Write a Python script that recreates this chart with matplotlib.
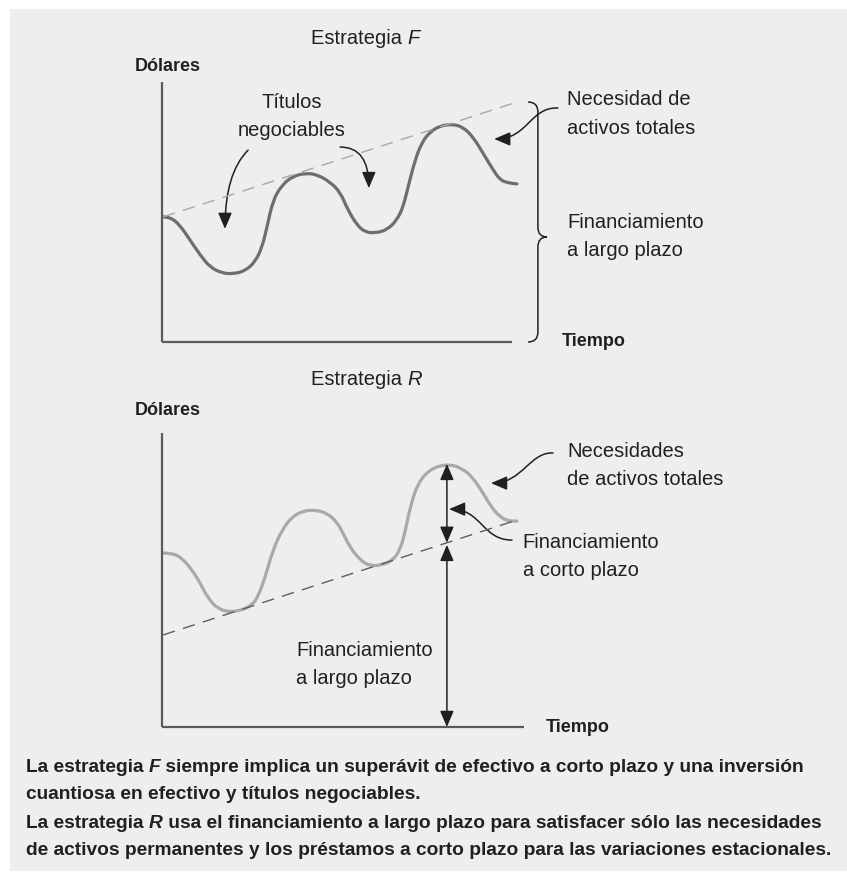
import numpy as np
import matplotlib.pyplot as plt
from matplotlib import font_manager
from matplotlib.patches import FancyArrowPatch, PathPatch, Rectangle
from matplotlib.path import Path

# ===== DATA (time units vs dollar units) =====
# Strategy F: total asset needs
t_F = [0.03, 0.23, 0.51, 0.80, 1.09, 1.37, 1.71, 2.03, 2.37, 2.66, 2.86, 3.00,
       3.17, 3.43, 3.74, 4.14, 4.46, 4.80, 5.09, 5.31, 5.57, 5.80, 6.09, 6.43,
       6.71, 6.89, 7.03, 7.23, 7.43, 7.66, 7.94, 8.29, 8.60, 8.89, 9.17, 9.46,
       9.66, 9.89, 10.14]
dol_F = [4.81, 4.81, 4.50, 3.92, 3.35, 2.88, 2.65, 2.62, 2.73, 3.08, 3.65, 4.42,
         5.46, 6.04, 6.38, 6.50, 6.42, 6.15, 5.77, 5.08, 4.50, 4.23, 4.19, 4.31,
         4.69, 5.19, 5.96, 7.00, 7.69, 8.08, 8.31, 8.38, 8.27, 7.88, 7.27, 6.62,
         6.23, 6.12, 6.08]

# Strategy R: total asset needs
t_R = [0.03, 0.29, 0.57, 0.86, 1.09, 1.31, 1.60, 1.94, 2.29, 2.57, 2.74, 2.94,
       3.17, 3.43, 3.71, 4.03, 4.37, 4.71, 5.00, 5.17, 5.37, 5.66, 5.94, 6.29,
       6.60, 6.80, 6.94, 7.09, 7.31, 7.66, 8.14, 8.57, 8.89, 9.17, 9.43, 9.66,
       9.89, 10.14]
dol_R = [6.69, 6.69, 6.50, 6.04, 5.54, 4.96, 4.54, 4.42, 4.50, 4.69, 5.00, 5.73,
         6.81, 7.58, 8.08, 8.31, 8.35, 8.23, 7.88, 7.46, 6.92, 6.42, 6.19, 6.23,
         6.42, 6.81, 7.46, 8.46, 9.38, 9.92, 10.12, 9.96, 9.58, 9.00, 8.42, 8.08,
         7.92, 7.92]

# long-term financing lines (dashed)
trend_t = [0.03, 10.14]
trend_F = [4.81, 9.23]
trend_R = [3.54, 7.96]

caption = [
    [("La estrategia ", "normal"), ("F", "italic"),
     (" siempre implica un superávit de efectivo a corto plazo y una inversión", "normal")],
    [("cuantiosa en efectivo y títulos negociables.", "normal")],
    [("La estrategia ", "normal"), ("R", "italic"),
     (" usa el financiamiento a largo plazo para satisfacer sólo las necesidades", "normal")],
    [("de activos permanentes y los préstamos a corto plazo para las variaciones estacionales.", "normal")],
]

# ===== STYLE =====
W, H = 847, 875
names = {f.name for f in font_manager.fontManager.ttflist}
NARROW = "Liberation Sans Narrow" if "Liberation Sans Narrow" in names else "Liberation Sans"
REG = "Liberation Sans"
TXT = "#231f20"
AX = "#5a5a5a"
LBL = 14.5
BOLD = 15 if NARROW != REG else 13
CAP = 16.35 if NARROW != REG else 13.8

fig = plt.figure(figsize=(W / 100, H / 100), dpi=100)
fig.patch.set_facecolor("white")

bg = fig.add_axes([0, 0, 1, 1])
bg.set_xlim(0, 1)
bg.set_ylim(0, 1)
bg.axis("off")
bg.add_patch(Rectangle((10 / W, 4 / H), 837 / W, 862 / H, color="#eeeeee", lw=0))


def panel(y_axis_px, ymax, xmax_axis):
    ax = fig.add_axes([162 / W, 1 - y_axis_px / H, 14 * 35 / W, ymax * 26 / H])
    ax.set_xlim(0, 14)
    ax.set_ylim(0, ymax)
    ax.set_facecolor("none")
    for s in ["top", "right"]:
        ax.spines[s].set_visible(False)
    for s in ["left", "bottom"]:
        ax.spines[s].set_color(AX)
        ax.spines[s].set_linewidth(1.6)
        ax.spines[s].set_capstyle("butt")
    ax.spines["left"].set_bounds(0, ymax)
    ax.spines["bottom"].set_bounds(0, xmax_axis)
    ax.set_xticks([])
    ax.set_yticks([])
    return ax


def smooth_curve(ax, x, y, color):
    # quadratic bezier through the read points (points used as control points)
    verts = [(x[0], y[0])]
    codes = [Path.MOVETO]
    for i in range(1, len(x) - 1):
        verts += [(x[i], y[i]), ((x[i] + x[i + 1]) / 2, (y[i] + y[i + 1]) / 2)]
        codes += [Path.CURVE3, Path.CURVE3]
    verts.append((x[-1], y[-1]))
    codes.append(Path.LINETO)
    ax.add_patch(PathPatch(Path(verts, codes), fill=False, edgecolor=color, lw=2.3,
                           capstyle="round", joinstyle="round"))


def rich(ax, x, y, parts, size, family, weight="normal", transform=None):
    prev = ax.text(x, y, parts[0][0], fontsize=size, family=family, weight=weight,
                   style=parts[0][1], color=TXT, va="baseline", ha="left",
                   transform=transform or ax.transData)
    for s, st in parts[1:]:
        prev = ax.annotate(s, xy=(1, 0), xycoords=prev, va="bottom", ha="left",
                           fontsize=size, family=family, weight=weight, style=st,
                           color=TXT, annotation_clip=False)
    return prev


def lines(ax, x, y, rows, ha="left", dy=1.08):
    for i, r in enumerate(rows):
        ax.text(x, y - i * dy, r, fontsize=LBL, family=REG, color=TXT,
                ha=ha, va="center")


HEAD = "-|>,head_length=0.75,head_width=0.32"


def curved_arrow(ax, p0, p1, p2, p3):
    path = Path([p0, p1, p2, p3], [Path.MOVETO, Path.CURVE4, Path.CURVE4, Path.CURVE4])
    ax.add_patch(FancyArrowPatch(path=path, arrowstyle=HEAD, mutation_scale=13,
                                 color=TXT, lw=1.1, transform=ax.transData, clip_on=False))


def arrow3(ax, start, end, conn):
    ax.add_patch(FancyArrowPatch(start, end, connectionstyle=conn, arrowstyle=HEAD,
                                 mutation_scale=13, color=TXT, lw=1.1, shrinkA=0, shrinkB=0,
                                 clip_on=False))


# ===== STRATEGY F =====
ax_F = panel(342, 10, 10.0)
ax_F.plot(trend_t, trend_F, color="#a8a8a8", lw=1.0, dashes=(9, 6))
smooth_curve(ax_F, t_F, dol_F, "#6e6e6e")

rich(ax_F, 4.26, 11.45, [("Estrategia ", "normal"), ("F", "italic")], LBL, REG)
ax_F.text(-0.77, 10.58, "Dólares", fontsize=BOLD, family=NARROW, weight="bold",
          color=TXT, va="center", ha="left")
ax_F.text(11.43, 0.0, "Tiempo", fontsize=BOLD, family=NARROW, weight="bold",
          color=TXT, va="center", ha="left")
lines(ax_F, 3.71, 9.23, ["Títulos", "negociables"], ha="center")
lines(ax_F, 11.57, 9.31, ["Necesidad de", "activos totales"])
lines(ax_F, 11.57, 4.58, ["Financiamiento", "a largo plazo"])

arrow3(ax_F, (2.46, 7.38), (1.80, 4.35), "angle3,angleA=45,angleB=90")
arrow3(ax_F, (5.09, 7.50), (5.91, 5.92), "angle3,angleA=0,angleB=90")
curved_arrow(ax_F, (11.31, 9.00), (10.51, 9.04), (10.46, 7.81), (9.49, 7.81))

# brace spanning long-term financing
brace = Path(
    [(10.46, 9.23), (10.74, 9.23), (10.74, 8.85), (10.74, 4.42), (10.74, 4.04), (11.0, 4.04),
     (10.74, 4.04), (10.74, 3.65), (10.74, 0.38), (10.74, 0.0), (10.46, 0.0)],
    [Path.MOVETO, Path.CURVE3, Path.CURVE3, Path.LINETO, Path.CURVE3, Path.CURVE3,
     Path.CURVE3, Path.CURVE3, Path.LINETO, Path.CURVE3, Path.CURVE3])
ax_F.add_patch(PathPatch(brace, fill=False, color=TXT, lw=1.1, clip_on=False))

# ===== STRATEGY R =====
ax_R = panel(727, 11.3, 10.34)
ax_R.plot(trend_t, trend_R, color="#5e5e5e", lw=1.0, dashes=(9, 6))
smooth_curve(ax_R, t_R, dol_R, "#a9a9a9")

rich(ax_R, 4.26, 13.15, [("Estrategia ", "normal"), ("R", "italic")], LBL, REG)
ax_R.text(-0.77, 12.19, "Dólares", fontsize=BOLD, family=NARROW, weight="bold",
          color=TXT, va="center", ha="left")
ax_R.text(10.97, 0.0, "Tiempo", fontsize=BOLD, family=NARROW, weight="bold",
          color=TXT, va="center", ha="left")
lines(ax_R, 11.57, 10.58, ["Necesidades", "de activos totales"])
lines(ax_R, 10.31, 7.08, ["Financiamiento", "a corto plazo"])
lines(ax_R, 3.83, 2.96, ["Financiamiento", "a largo plazo"])

# short-term vs long-term financing at the seasonal peak
i_pk = int(np.argmax(dol_R))
t_pk = t_R[i_pk]
base_pk = np.interp(t_pk, trend_t, trend_R)
two = "<|-|>,head_length=0.75,head_width=0.32"
ax_R.annotate("", xy=(t_pk, dol_R[i_pk]), xytext=(t_pk, base_pk),
              arrowprops=dict(arrowstyle=two, mutation_scale=13, color=TXT, lw=1.1,
                              shrinkA=0, shrinkB=0))
ax_R.annotate("", xy=(t_pk, base_pk - 0.08), xytext=(t_pk, 0),
              arrowprops=dict(arrowstyle=two, mutation_scale=13, color=TXT, lw=1.1,
                              shrinkA=0, shrinkB=0))

curved_arrow(ax_R, (11.17, 10.54), (10.51, 10.58), (10.29, 9.38), (9.40, 9.38))
curved_arrow(ax_R, (10.0, 7.19), (9.14, 7.19), (9.14, 8.38), (8.20, 8.38))

# ===== CAPTION =====
for k, row in enumerate(caption):
    rich(bg, 26 / W, 1 - [772, 799, 828, 855][k] / H, row, CAP, NARROW, weight="bold",
         transform=bg.transAxes)

fig.savefig("out.png", dpi=100, facecolor=fig.get_facecolor())
